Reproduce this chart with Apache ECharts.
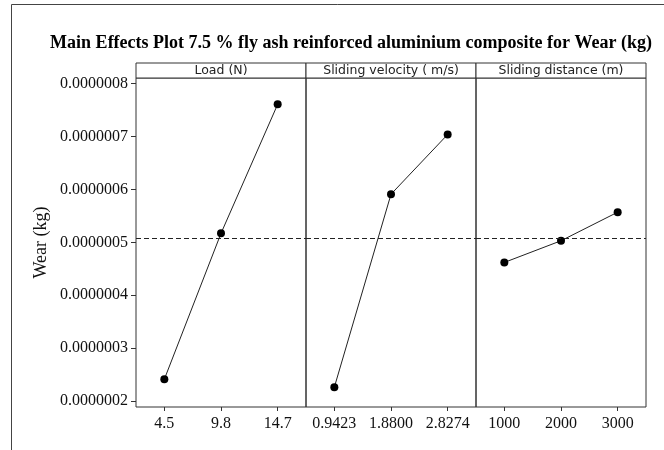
<!DOCTYPE html>
<html>
<head>
<meta charset="utf-8">
<script src="https://cdn.jsdelivr.net/npm/echarts@6/dist/echarts.min.js"></script>
<style>
html,body{margin:0;padding:0;background:#fff;}
#chart{width:664px;height:450px;}
</style>
</head>
<body>
<div id="chart"></div>
<script>
// ---- data ----
var chartTitle = 'Main Effects Plot 7.5 % fly ash reinforced aluminium composite for Wear (kg)';
var yAxisTitle = 'Wear (kg)';
var panelTitles = ['Load (N)', 'Sliding velocity ( m/s)', 'Sliding distance (m)'];
var loadLevels = ['4.5', '9.8', '14.7'];
var loadWear = [2.41e-7, 5.17e-7, 7.61e-7];
var velocityLevels = ['0.9423', '1.8800', '2.8274'];
var velocityWear = [2.26e-7, 5.91e-7, 7.04e-7];
var distanceLevels = ['1000', '2000', '3000'];
var distanceWear = [4.62e-7, 5.03e-7, 5.57e-7];
var yTicks = [2e-7, 3e-7, 4e-7, 5e-7, 6e-7, 7e-7, 8e-7];

var allVals = loadWear.concat(velocityWear).concat(distanceWear);
var grandMean = allVals.reduce(function(a,b){return a+b;},0) / allVals.length;

var levels = [loadLevels, velocityLevels, distanceLevels];
var wear = [loadWear, velocityWear, distanceWear];

var panelLeft = [136, 306, 476];
var panelW = 170;
var gridTop = 78, gridBottom = 43;
var yMin = 1.886e-7, yMax = 8.108e-7;
var serif = '"Liberation Serif","Times New Roman",serif';
var sans = '"DejaVu Sans","Liberation Sans",sans-serif';

var grids = [], xAxes = [], yAxes = [], series = [], graphics = [];
for (var i = 0; i < 3; i++) {
  grids.push({left: panelLeft[i], width: panelW, top: gridTop, bottom: gridBottom,
    show: true, borderColor: '#333', borderWidth: 1, containLabel: false});
  xAxes.push({type: 'category', gridIndex: i, data: levels[i], boundaryGap: true,
    axisLine: {show: false},
    axisTick: {show: true, alignWithLabel: true, length: 4, lineStyle: {color: '#333'}},
    axisLabel: {interval: 0, hideOverlap: false, fontFamily: serif, fontSize: 16, color: '#111', margin: 9},
    splitLine: {show: false}});
  yAxes.push({type: 'value', gridIndex: i, min: yMin, max: yMax,
    name: i === 0 ? yAxisTitle : '', nameLocation: 'middle', nameGap: 86,
    nameTextStyle: {fontFamily: serif, fontSize: 18, color: '#111'},
    axisLine: {show: false},
    axisTick: {show: i === 0, length: 5, customValues: yTicks, lineStyle: {color: '#333'}},
    axisLabel: {show: i === 0, customValues: yTicks, fontFamily: serif, fontSize: 16, color: '#111', margin: 8,
      formatter: function(v){ return v.toFixed(7); }},
    splitLine: {show: false}});
  series.push({type: 'line', xAxisIndex: i, yAxisIndex: i, data: wear[i],
    symbol: 'circle', symbolSize: 8, itemStyle: {color: '#000'},
    lineStyle: {color: '#222', width: 1}, animation: false,
    markLine: {silent: true, symbol: 'none', precision: 12, label: {show: false}, animation: false,
      lineStyle: {color: '#222', type: [5, 3], width: 1},
      data: [{yAxis: grandMean}]}});
  graphics.push({type: 'rect', shape: {x: panelLeft[i], y: 63, width: panelW, height: 15},
    style: {fill: '#fff', stroke: '#333', lineWidth: 1}});
  graphics.push({type: 'text', x: panelLeft[i] + panelW / 2, y: 70.5,
    style: {text: panelTitles[i], font: '12.5px ' + sans, fill: '#222', align: 'center', verticalAlign: 'middle'}});
}
// outer frame
graphics.push({type: 'polyline', shape: {points: [[11.5, 450], [11.5, 4.5], [664, 4.5]]},
  style: {stroke: '#444', lineWidth: 1, fill: null}});

var chart = echarts.init(document.getElementById('chart'), null, {renderer: 'canvas'});
chart.setOption({
  backgroundColor: '#fff',
  animation: false,
  title: {text: chartTitle, left: 346, top: 29, textAlign: 'center',
    textStyle: {fontFamily: serif, fontWeight: 'bold', fontSize: 18, color: '#000'}},
  grid: grids, xAxis: xAxes, yAxis: yAxes, series: series, graphic: graphics
});
</script>
</body>
</html>
